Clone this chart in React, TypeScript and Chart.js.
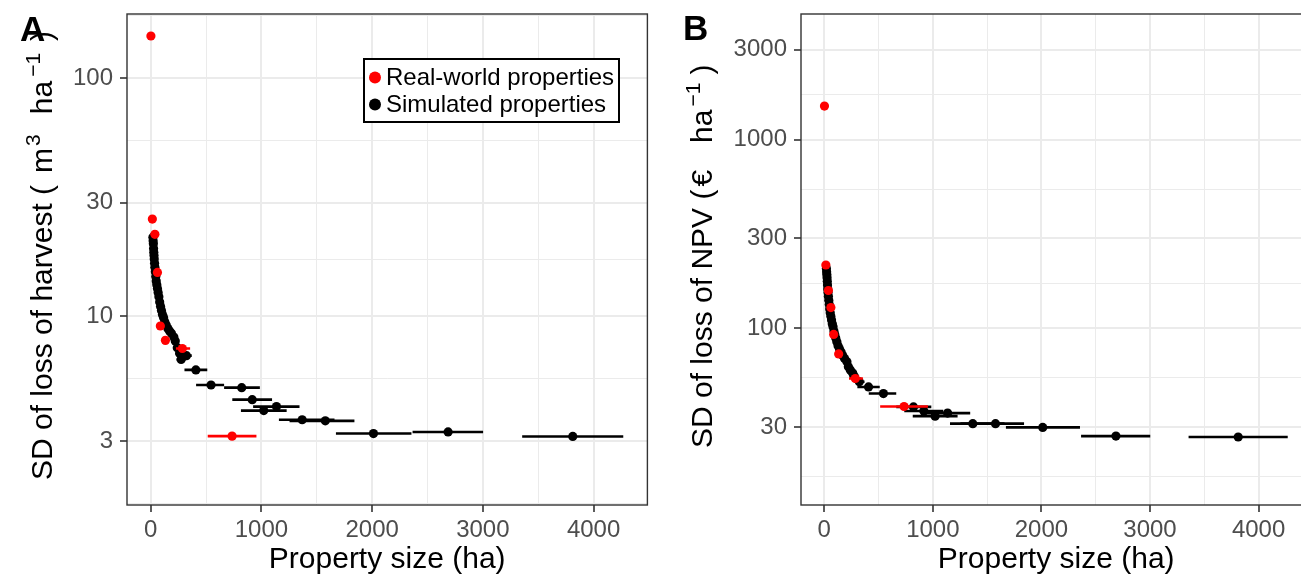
import React, { useEffect, useRef } from "react";
import { Chart, registerables } from "chart.js";

Chart.register(...registerables);

const FONT = '"Liberation Sans", Arial, Helvetica, sans-serif';

// ---------------- data ----------------
const realX = [2, 15, 38, 61, 87, 133, 286, 735];
const realXMin = [1, 13, 34, 55, 78, 118, 228, 515];
const realXMax = [3, 17, 42, 67, 96, 148, 356, 955];
const realHarvestSD = [150, 25.6, 22.1, 15.3, 9.12, 7.94, 7.34, 3.15];
const realNpvSD = [1510, 217, 159, 129, 93, 73.3, 54.3, 38.6];

const simX = [20, 22, 24, 26, 28, 30, 32, 35, 38, 42, 46, 50, 55, 61, 67, 74, 81, 89, 97, 106, 116, 127, 140, 155, 170, 187, 209, 222, 240, 262, 275, 323, 408, 545, 822, 917, 1021, 1136, 1368, 1577, 2012, 2686, 3812];
const simXMin = [18, 20, 22, 23, 25, 27, 28, 31, 34, 37, 41, 44, 49, 54, 59, 65, 71, 78, 85, 93, 101, 110, 121, 133, 146, 160, 178, 189, 204, 223, 234, 275, 305, 410, 663, 737, 815, 925, 1158, 1254, 1673, 2365, 3355];
const simXMax = [22, 24, 27, 29, 31, 33, 36, 39, 42, 47, 51, 56, 62, 68, 75, 83, 91, 100, 109, 119, 131, 144, 159, 177, 194, 214, 240, 255, 276, 301, 316, 371, 511, 663, 986, 1096, 1228, 1344, 1660, 1840, 2355, 3002, 4268];
const simHarvestSD = [21.5, 20.8, 20.2, 19.3, 18.6, 18.0, 17.4, 16.7, 16.1, 15.4, 14.7, 14.1, 13.6, 13.1, 12.6, 12.1, 11.5, 11.0, 10.6, 10.2, 9.9, 9.5, 9.2, 8.9, 8.7, 8.5, 8.2, 7.9, 7.4, 7.0, 6.6, 6.85, 5.97, 5.16, 5.03, 4.48, 4.03, 4.19, 3.69, 3.65, 3.23, 3.28, 3.14];
const simNpvSD = [208, 200, 193, 186, 178, 170, 162, 155, 148, 141, 134, 127, 121, 116, 111, 106, 102, 97, 93, 89, 85, 81, 78, 75, 72, 69.4, 66.7, 62.7, 60.3, 58, 56, 52.2, 49, 45.2, 38.4, 36.5, 34.3, 35.6, 31.3, 31.3, 29.9, 26.9, 26.6];

const xMajorTicks = [0, 1000, 2000, 3000, 4000];
const xMinorTicks = [500, 1500, 2500, 3500];
const harvestMajorTicks = [3, 10, 30, 100];
const harvestMinorTicks = [1.64, 5.48, 17.3, 54.8, 182.6];
const npvMajorTicks = [30, 100, 300, 1000, 3000];
const npvMinorTicks = [16.4, 54.8, 173, 548, 1732];

const seriesLabels = ["Real-world properties", "Simulated properties"];
const seriesColors = ["#FF0000", "#000000"];

// ---------------- plugins ----------------
const errorBarPlugin = {
  id: "hErrorBars",
  beforeDatasetDraw(chart: any, args: any) {
    const ds = chart.data.datasets[args.index];
    const meta = chart.getDatasetMeta(args.index);
    const xs = chart.scales.x;
    const area = chart.chartArea;
    const ctx = chart.ctx;
    ctx.save();
    ctx.beginPath();
    ctx.rect(area.left, area.top, area.right - area.left, area.bottom - area.top);
    ctx.clip();
    ctx.strokeStyle = ds.backgroundColor;
    ctx.lineWidth = 2.6;
    ctx.lineCap = "butt";
    meta.data.forEach((el: any, j: number) => {
      const raw = ds.data[j];
      const x1 = xs.getPixelForValue(raw.xMin);
      const x2 = xs.getPixelForValue(raw.xMax);
      ctx.beginPath();
      ctx.moveTo(x1, el.y);
      ctx.lineTo(x2, el.y);
      ctx.stroke();
    });
    ctx.restore();
  },
};

const framePlugin = {
  id: "panelFrame",
  afterDatasetsDraw(chart: any) {
    const a = chart.chartArea;
    const ctx = chart.ctx;
    ctx.save();
    ctx.strokeStyle = "#333333";
    ctx.lineWidth = 1.4;
    ctx.strokeRect(a.left, a.top, a.right - a.left, a.bottom - a.top);
    ctx.restore();
  },
};

type Seg = { text: string; size: number; rise: number; gap: number };

function richTitlePlugin(segs: Seg[], baseX: number, startY: number) {
  return {
    id: "richYTitle",
    afterDraw(chart: any) {
      const ctx = chart.ctx;
      ctx.save();
      ctx.translate(baseX, startY);
      ctx.rotate(-Math.PI / 2);
      ctx.fillStyle = "#000000";
      ctx.textBaseline = "alphabetic";
      ctx.textAlign = "left";
      let x = 0;
      for (const s of segs) {
        x += s.gap;
        ctx.font = `${s.size}px ${FONT}`;
        ctx.fillText(s.text, x, -s.rise);
        x += ctx.measureText(s.text).width;
      }
      ctx.restore();
    },
  };
}

function letterPlugin(letter: string, x: number, y: number) {
  return {
    id: "panelLetter",
    afterDraw(chart: any) {
      const ctx = chart.ctx;
      ctx.save();
      ctx.fillStyle = "#000000";
      ctx.font = `bold 35px ${FONT}`;
      ctx.textBaseline = "alphabetic";
      ctx.textAlign = "left";
      ctx.fillText(letter, x, y);
      ctx.restore();
    },
  };
}

const boxLegendPlugin = {
  id: "boxLegend",
  afterDraw(chart: any) {
    const ctx = chart.ctx;
    const bx = 364, by = 59, bw = 255, bh = 63;
    ctx.save();
    ctx.fillStyle = "#FFFFFF";
    ctx.fillRect(bx, by, bw, bh);
    ctx.strokeStyle = "#000000";
    ctx.lineWidth = 2;
    ctx.strokeRect(bx, by, bw, bh);
    chart.data.datasets.forEach((ds: any, i: number) => {
      const cy = by + 18.5 + i * 27;
      ctx.fillStyle = ds.backgroundColor;
      ctx.beginPath();
      ctx.arc(bx + 11, cy, 6, 0, Math.PI * 2);
      ctx.fill();
      ctx.fillStyle = "#000000";
      ctx.font = `24px ${FONT}`;
      ctx.textBaseline = "middle";
      ctx.textAlign = "left";
      ctx.fillText(ds.label, bx + 22, cy + 1);
    });
    ctx.restore();
  },
};

// ---------------- config ----------------
type Panel = {
  realY: number[];
  simY: number[];
  yMin: number;
  yMax: number;
  yMajor: number[];
  yMinor: number[];
  yAxisWidth: number;
  rightPad: number;
  extra: any[];
};

function buildConfig(p: Panel): any {
  const xAll = [...xMajorTicks, ...xMinorTicks].sort((a, b) => a - b);
  const yAll = [...p.yMajor, ...p.yMinor].sort((a, b) => a - b);
  const isXMajor = (v: number) => xMajorTicks.includes(v);
  const isYMajor = (v: number) => p.yMajor.includes(v);
  const mk = (xs: number[], mins: number[], maxs: number[], ys: number[]) =>
    xs.map((x, i) => ({ x, y: ys[i], xMin: mins[i], xMax: maxs[i] }));
  const zeroPad = (s: any) => {
    s.paddingTop = 0;
    s.paddingBottom = 0;
    s.paddingLeft = 0;
    s.paddingRight = 0;
  };
  return {
    type: "scatter",
    data: {
      datasets: [
        {
          label: seriesLabels[0],
          data: mk(realX, realXMin, realXMax, p.realY),
          backgroundColor: seriesColors[0],
          borderColor: seriesColors[0],
          borderWidth: 0,
          pointRadius: 4.6,
          pointHoverRadius: 4.6,
        },
        {
          label: seriesLabels[1],
          data: mk(simX, simXMin, simXMax, p.simY),
          backgroundColor: seriesColors[1],
          borderColor: seriesColors[1],
          borderWidth: 0,
          pointRadius: 4.6,
          pointHoverRadius: 4.6,
        },
      ],
    },
    options: {
      responsive: false,
      animation: false,
      devicePixelRatio: 1,
      events: [],
      layout: { padding: { left: 0, right: p.rightPad, top: 14, bottom: 0 } },
      plugins: { legend: { display: false }, tooltip: { enabled: false }, title: { display: false } },
      scales: {
        x: {
          type: "linear",
          min: -214,
          max: 4486,
          bounds: "data",
          afterBuildTicks: (s: any) => {
            s.ticks = xAll.map((v) => ({ value: v }));
          },
          afterFit: (s: any) => {
            s.height = 73;
            zeroPad(s);
          },
          border: { display: false },
          grid: {
            color: "#EBEBEB",
            lineWidth: (c: any) => (c.tick && isXMajor(c.tick.value) ? 2 : 1),
            drawTicks: true,
            tickLength: 7,
            tickWidth: 1.6,
            tickColor: (c: any) => (c.tick && isXMajor(c.tick.value) ? "#333333" : "rgba(0,0,0,0)"),
          },
          ticks: {
            autoSkip: false,
            maxRotation: 0,
            padding: 4,
            color: "#4D4D4D",
            font: { size: 24, family: FONT },
            callback: (v: number) => (isXMajor(v) ? String(v) : ""),
          },
          title: {
            display: true,
            text: "Property size (ha)",
            color: "#000000",
            font: { size: 30, family: FONT },
            padding: 0,
          },
        },
        y: {
          type: "logarithmic",
          min: p.yMin,
          max: p.yMax,
          bounds: "data",
          afterBuildTicks: (s: any) => {
            s.ticks = yAll.map((v) => ({ value: v }));
          },
          afterFit: (s: any) => {
            s.width = p.yAxisWidth;
            zeroPad(s);
          },
          border: { display: false },
          grid: {
            color: "#EBEBEB",
            lineWidth: (c: any) => (c.tick && isYMajor(c.tick.value) ? 2 : 1),
            drawTicks: true,
            tickLength: 7,
            tickWidth: 1.6,
            tickColor: (c: any) => (c.tick && isYMajor(c.tick.value) ? "#333333" : "rgba(0,0,0,0)"),
          },
          ticks: {
            autoSkip: false,
            padding: 7,
            color: "#4D4D4D",
            font: { size: 24, family: FONT },
            callback: (v: number) => (isYMajor(v) ? String(v) : ""),
          },
          title: { display: false },
        },
      },
    },
    plugins: [errorBarPlugin, framePlugin, ...p.extra],
  };
}

const titleA: Seg[] = [
  { text: "SD of loss of harvest (", size: 30, rise: 0, gap: 0 },
  { text: "m", size: 30, rise: 0, gap: 12 },
  { text: "3", size: 21, rise: 12, gap: 2 },
  { text: "ha", size: 30, rise: 0, gap: 20 },
  { text: "\u22121", size: 21, rise: 12, gap: 4 },
  { text: ")", size: 30, rise: 0, gap: 12 },
];

const titleB: Seg[] = [
  { text: "SD of loss of NPV (", size: 30, rise: 0, gap: 0 },
  { text: "\u20AC", size: 30, rise: 0, gap: 3 },
  { text: "ha", size: 30, rise: 0, gap: 27 },
  { text: "\u22121", size: 21, rise: 12, gap: 3 },
  { text: ")", size: 30, rise: 0, gap: 8 },
];

export default function App() {
  const refA = useRef<HTMLCanvasElement>(null);
  const refB = useRef<HTMLCanvasElement>(null);

  useEffect(() => {
    const chartA = new Chart(
      refA.current as HTMLCanvasElement,
      buildConfig({
        realY: realHarvestSD,
        simY: simHarvestSD,
        yMin: 1.62,
        yMax: 185.5,
        yMajor: harvestMajorTicks,
        yMinor: harvestMinorTicks,
        yAxisWidth: 127,
        rightPad: 2,
        extra: [richTitlePlugin(titleA, 52, 480), letterPlugin("A", 20, 41), boxLegendPlugin],
      })
    );
    const chartB = new Chart(
      refB.current as HTMLCanvasElement,
      buildConfig({
        realY: realNpvSD,
        simY: simNpvSD,
        yMin: 11.6,
        yMax: 4642,
        yMajor: npvMajorTicks,
        yMinor: npvMinorTicks,
        yAxisWidth: 149,
        rightPad: 4,
        extra: [richTitlePlugin(titleB, 60, 448), letterPlugin("B", 31, 40)],
      })
    );
    return () => {
      chartA.destroy();
      chartB.destroy();
    };
  }, []);

  return (
    <div
      style={{
        position: "fixed",
        left: 0,
        top: 0,
        width: 1301,
        height: 578,
        overflow: "hidden",
        background: "#FFFFFF",
      }}
    >
      <canvas ref={refA} width={652} height={578} style={{ position: "absolute", left: 0, top: 0 }} />
      <canvas ref={refB} width={664} height={578} style={{ position: "absolute", left: 652, top: 0 }} />
    </div>
  );
}
